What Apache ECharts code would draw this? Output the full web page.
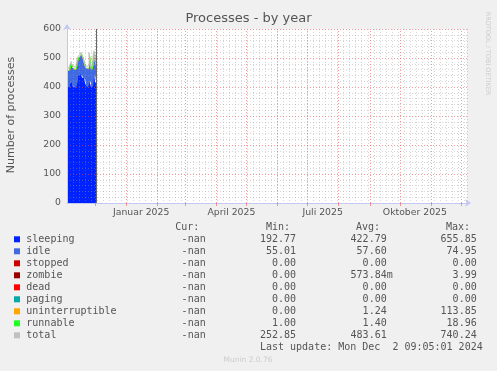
<!DOCTYPE html>
<html>
<head>
<meta charset="utf-8">
<script src="https://cdn.jsdelivr.net/npm/echarts@6/dist/echarts.min.js"></script>
<style>
html,body{margin:0;padding:0;background:#f0f0f0;}
#c{width:497px;height:371px;}
</style>
</head>
<body>
<div id="c"></div>
<script>
// ---------- data ----------
const startDate = '2024-11-03';
const endDate = '2025-12-07';
const nowDate = '2024-12-02T09:05:01Z';
const dataDates = ['2024-11-03','2024-11-04','2024-11-05','2024-11-06','2024-11-07','2024-11-08','2024-11-09','2024-11-10','2024-11-11','2024-11-12','2024-11-13','2024-11-14','2024-11-15','2024-11-16','2024-11-17','2024-11-18','2024-11-19','2024-11-20','2024-11-21','2024-11-22','2024-11-23','2024-11-24','2024-11-25','2024-11-26','2024-11-27','2024-11-28','2024-11-29','2024-11-30','2024-12-01','2024-12-02'];
const sleeping = [400,403,398,412,418,404,400,401,399,408,424,438,446,444,440,432,433,428,414,405,401,409,420,413,399,404,430,441,420,410];
const idle = [53,55,58,58,62,64,62,58,60,58,62,60,58,62,72,72,60,52,55,58,60,56,88,60,60,62,70,76,60,62];
const uninterruptible = [1,1,1,1,1,1,1,1,1,1,1,1,1,1,1,1,1,1,1,1,1,1,3,1,1,1,1,1,1,1];
const runnable = [1.3,1.4,1.5,1.4,1.3,1.4,1.5,1.4,1.3,1.4,1.4,1.5,1.3,1.4,1.6,1.4,1.3,1.4,1.5,1.4,1.3,1.4,2.0,1.4,1.3,1.4,1.5,1.6,1.4,6.0];
const total = [462,466,464,478,488,476,470,467,467,474,494,506,512,514,520,512,501,488,477,471,469,473,518,482,468,474,508,525,489,481];

const monthStarts = ['2024-12-01','2025-01-01','2025-02-01','2025-03-01','2025-04-01','2025-05-01','2025-06-01','2025-07-01','2025-08-01','2025-09-01','2025-10-01','2025-11-01','2025-12-01'];
const labelDates = ['2025-01-16','2025-04-16','2025-07-16','2025-10-16'];
const labelTexts = ['Januar 2025','April 2025','Juli 2025','Oktober 2025'];

const legendNames = ['sleeping','idle','stopped','zombie','dead','paging','uninterruptible','runnable','total'];
const legendCur = ['-nan','-nan','-nan','-nan','-nan','-nan','-nan','-nan','-nan'];
const legendMin = ['192.77','55.01','0.00','0.00','0.00','0.00','0.00','1.00','252.85'];
const legendAvg = ['422.79','57.60','0.00','573.84m','0.00','0.00','1.24','1.40','483.61'];
const legendMax = ['655.85','74.95','0.00','3.99','0.00','0.00','113.85','18.96','740.24'];
const colHeaders = ['Cur:','Min:','Avg:','Max:'];
const lastUpdate = 'Last update: Mon Dec  2 09:05:01 2024';
const titleText = 'Processes - by year';
const yName = 'Number of processes';
const sideText = 'RRDTOOL / TOBI OETIKER';
const footer = 'Munin 2.0.76';

// ---------- styles ----------
const legendColors = ['#0022ff','#4169e1','#cc0000','#990000','#ff0000','#00aaaa','#ffa500','#22ff22','#c0c0c0'];
const TXT = '#555555';
const MONO = '10px "DejaVu Sans Mono"';
const AXIS_C = '#c4c8f0';
const MGRID = 'rgba(225,80,80,0.55)';
const GRID = 'rgba(150,150,150,0.4)';

const DAY = 86400000;
const t0 = Date.parse(startDate);
const t1 = Date.parse(endDate);
const ts = s => Date.parse(s);
const dayOf = s => (Date.parse(s) - t0) / DAY;
const xs = dataDates.map(ts);
const pair = arr => arr.map((v, i) => [xs[i], v]);
const labelMap = {};
labelDates.forEach((d, i) => { labelMap[dayOf(d)] = labelTexts[i]; });

const series = [
  {name:'sleeping', data: pair(sleeping), color: legendColors[0]},
  {name:'idle', data: pair(idle), color: legendColors[1]},
  {name:'uninterruptible', data: pair(uninterruptible), color: legendColors[6]},
  {name:'runnable', data: pair(runnable), color: legendColors[7]}
].map(s => ({
  type:'line', name:s.name, stack:'p', xAxisIndex:0, data:s.data, showSymbol:false, symbol:'none',
  step:'end', lineStyle:{width:0}, areaStyle:{color:s.color, opacity:1}, color:s.color,
  silent:true, animation:false, z:2
}));
series.push({
  type:'line', name:'total', xAxisIndex:0, data: pair(total), showSymbol:false, symbol:'none', step:'end',
  lineStyle:{width:1, color:legendColors[8]}, silent:true, animation:false, z:3
});
series.push({
  type:'line', xAxisIndex:0, data:[], silent:true, animation:false, z:6,
  markLine:{
    silent:true, symbol:'none', animation:false, label:{show:false},
    lineStyle:{color:MGRID, type:[1,2], width:1},
    data: monthStarts.map(d => ({xAxis: ts(d)})).concat([
      {xAxis: ts(nowDate), lineStyle:{color:'#666666', type:'solid', width:1}}
    ])
  }
});

const g = [];
g.push({type:'text', left:'center', top:12, style:{text:titleText, font:'13px "DejaVu Sans"', fill:TXT}});
g.push({type:'text', x:11, y:115, rotation:Math.PI/2, style:{text:yName, font:'11px "DejaVu Sans"', fill:TXT, align:'center', verticalAlign:'middle'}});
g.push({type:'text', x:487.5, y:53.5, rotation:-Math.PI/2, style:{text:sideText, font:'6.5px "DejaVu Sans"', fill:'#cccccc', align:'center', verticalAlign:'middle'}});
const colRights = [199.3, 290, 380, 470];
const valRights = [205.7, 296, 386.7, 476.7];
const CW = 6.02;
colHeaders.forEach((h, i) => g.push({type:'text', x:colRights[i], y:227.3, style:{text:h, font:MONO, fill:TXT, align:'right', verticalAlign:'middle'}}));
const cols = [legendCur, legendMin, legendAvg, legendMax];
legendNames.forEach((n, r) => {
  const y = 239.3 + r * 12;
  g.push({type:'rect', shape:{x:14, y:y-3, width:6, height:6}, style:{fill:legendColors[r]}});
  g.push({type:'text', x:26.3, y:y, style:{text:n, font:MONO, fill:TXT, align:'left', verticalAlign:'middle'}});
  cols.forEach((col, c) => {
    const v = col[r];
    const extra = /\d[mkMG]$/.test(v) ? CW : 0;
    g.push({type:'text', x:valRights[c] + extra, y:y, style:{text:v, font:MONO, fill:TXT, align:'right', verticalAlign:'middle'}});
  });
});
g.push({type:'text', x:482.7, y:347.3, style:{text:lastUpdate, font:MONO, fill:TXT, align:'right', verticalAlign:'middle'}});
g.push({type:'text', x:248, y:360.5, style:{text:footer, font:'7.5px "DejaVu Sans"', fill:'#cccccc', align:'center', verticalAlign:'middle'}});

const spanDays = (t1 - t0) / DAY;
const chart = echarts.init(document.getElementById('c'), null, {renderer:'canvas'});
chart.setOption({
  backgroundColor:'#f0f0f0',
  animation:false,
  grid:{left:67, right:30, top:29, bottom:168, show:true, backgroundColor:'#ffffff', borderWidth:0, containLabel:false},
  xAxis:[{
    type:'time', min:t0, max:t1, show:false, position:'bottom'
  },{
    type:'value', min:0, max:spanDays, z:5, position:'bottom',
    axisLine:{show:true, onZero:false, lineStyle:{color:AXIS_C, width:1}, symbol:['none','arrow'], symbolSize:[6,6], symbolOffset:[0,4]},
    axisTick:{show:true, length:3, inside:false, customValues: monthStarts.map(dayOf), lineStyle:{color:MGRID}},
    axisLabel:{show:true, customValues: labelDates.map(dayOf), formatter: v => labelMap[v] || '', color:TXT, fontFamily:'DejaVu Sans', fontSize:9.3, margin:5},
    splitLine:{show:false}
  },{
    type:'value', min:0, max:spanDays, interval:6, z:4, position:'bottom',
    axisLine:{show:false}, axisTick:{show:false}, axisLabel:{show:false},
    splitLine:{show:true, lineStyle:{color:GRID, type:[1,2], width:1}}
  }],
  yAxis:{
    type:'value', min:0, max:600, interval:100, z:5,
    axisLine:{show:true, lineStyle:{color:AXIS_C, width:1}, symbol:['none','arrow'], symbolSize:[6,6], symbolOffset:[0,5]},
    axisTick:{show:false},
    axisLabel:{color:TXT, fontFamily:'DejaVu Sans', fontSize:9.3, margin:6},
    splitLine:{show:true, lineStyle:{color:MGRID, type:[1,2], width:1}},
    minorTick:{show:false, splitNumber:5},
    minorSplitLine:{show:true, lineStyle:{color:GRID, type:[1,2], width:1}}
  },
  series: series,
  graphic: g
});
</script>
</body>
</html>
